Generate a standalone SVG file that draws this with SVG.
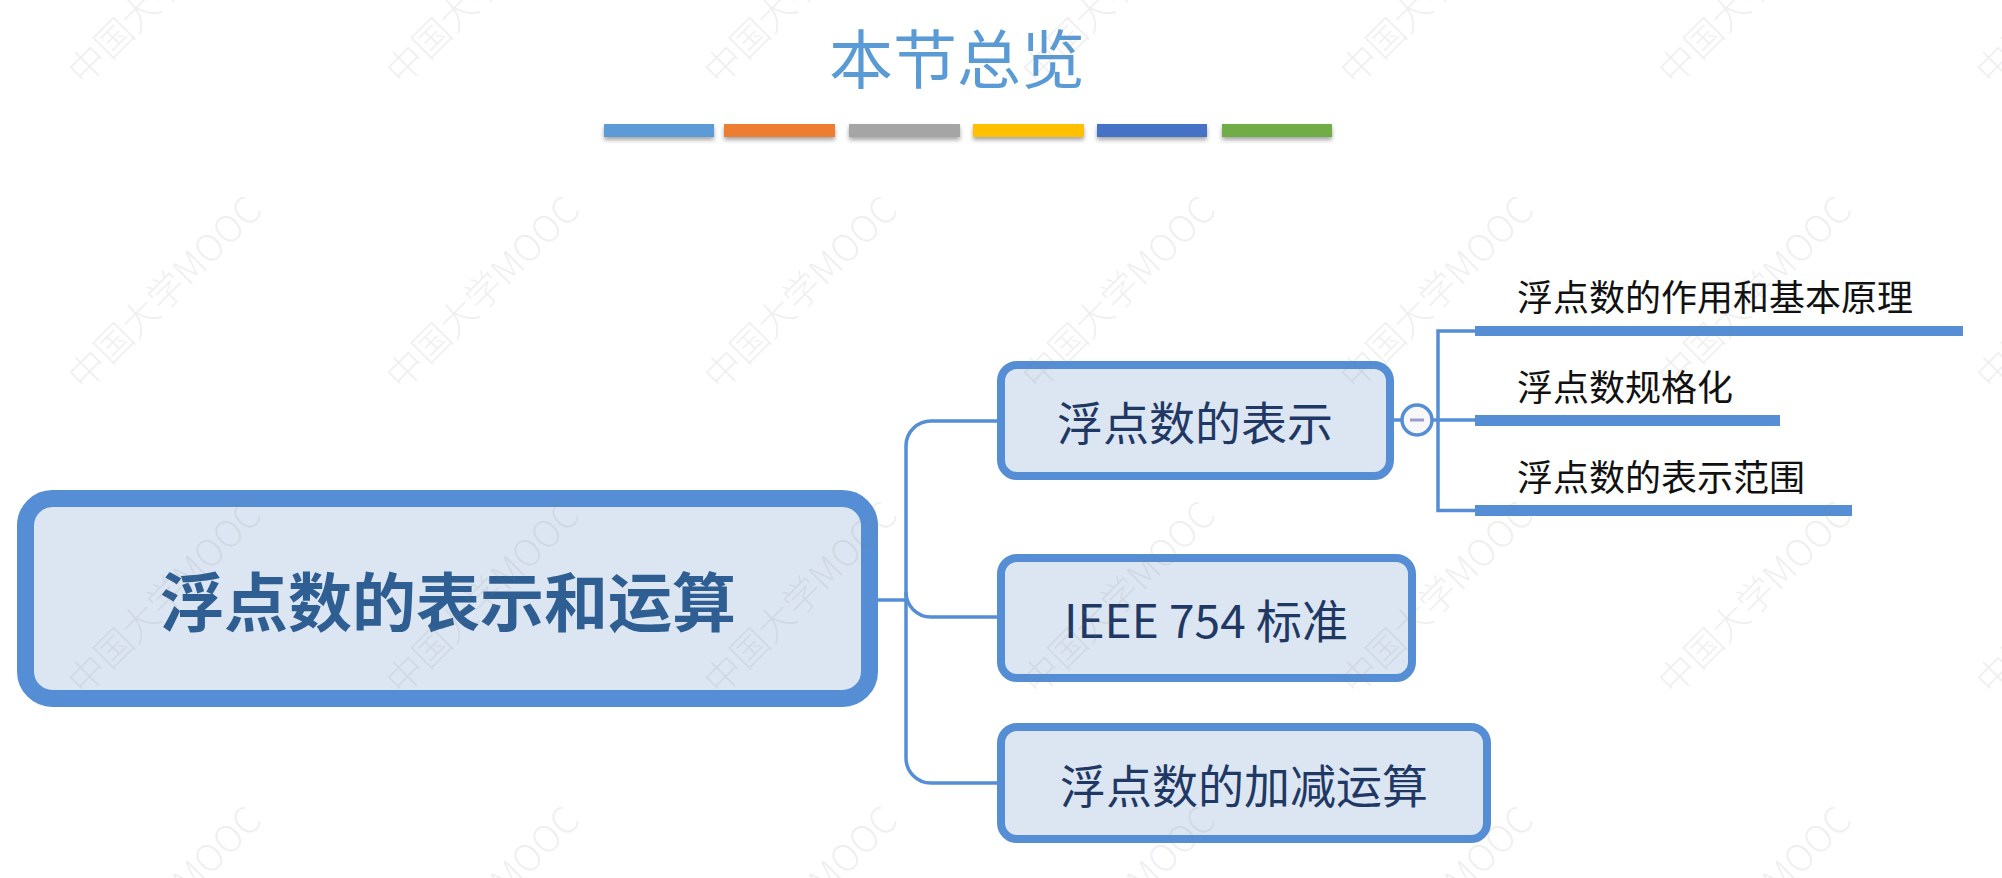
<svg xmlns="http://www.w3.org/2000/svg" width="2002" height="878" viewBox="0 0 2002 878">
<defs>
<filter id="sh" x="-10%" y="-50%" width="120%" height="250%">
<feDropShadow dx="0" dy="3" stdDeviation="2" flood-color="#000" flood-opacity="0.35"/>
</filter>
<style>
.cjk{font-family:"Noto Sans CJK SC","Noto Sans",sans-serif}
.title{font-size:64px;fill:#5B9BD5;text-anchor:middle;dominant-baseline:central}
.rootbox{fill:#DCE6F2;stroke:#558ED5;stroke-width:17}
.rootlbl{font-size:64px;font-weight:bold;fill:#2E5E92;text-anchor:middle;dominant-baseline:central}
.box{fill:#DCE6F2;stroke:#558ED5;stroke-width:8}
.lbl{font-size:46px;fill:#1F3864;text-anchor:middle;dominant-baseline:central}
.leaf{font-size:36px;fill:#111;dominant-baseline:central}
.bar{fill:#558ED5}
.conn{fill:none;stroke:#558ED5;stroke-width:3.5}
.wm{font-size:37px;font-weight:300;fill:#808080;fill-opacity:0.13}
</style>
</defs>
<rect width="2002" height="878" fill="#fff"/>

<g id="title">
<text class="cjk title" x="957" y="55">本节总览</text>
<g filter="url(#sh)">
<rect x="604" y="124" width="110" height="13" fill="#5B9BD5"/>
<rect x="724" y="124" width="111" height="13" fill="#ED7D31"/>
<rect x="849" y="124" width="111" height="13" fill="#A5A5A5"/>
<rect x="973" y="124" width="111" height="13" fill="#FFC000"/>
<rect x="1097" y="124" width="110" height="13" fill="#4472C4"/>
<rect x="1222" y="124" width="110" height="13" fill="#70AD47"/>
</g>
</g>

<g id="connectors">
<path class="conn" d="M877 600 H906"/>
<path class="conn" d="M906 600 V446 A25 25 0 0 1 931 421 H1000"/>
<path class="conn" d="M906 592 A25 25 0 0 0 931 617 H1000"/>
<path class="conn" d="M906 600 V758 A25 25 0 0 0 931 783 H1000"/>
<path class="conn" d="M1393 420 H1402"/>
<path class="conn" d="M1432 420 H1476"/>
<path class="conn" d="M1476 331 H1438 V510.5 H1476"/>
</g>

<g id="root">
<rect class="rootbox" x="25.5" y="498.5" width="844" height="200" rx="27"/>
<text class="cjk rootlbl" x="448" y="598">浮点数的表示和运算</text>
</g>

<g id="n1">
<rect class="box" x="1001" y="365" width="389" height="111" rx="16"/>
<text class="cjk lbl" x="1195" y="420">浮点数的表示</text>
</g>

<g id="n2">
<rect class="box" x="1001" y="558" width="411" height="120" rx="16"/>
<text class="cjk lbl" x="1206" y="618">IEEE 754 标准</text>
</g>

<g id="n3">
<rect class="box" x="1001" y="727" width="486" height="112" rx="16"/>
<text class="cjk lbl" x="1244" y="783">浮点数的加减运算</text>
</g>

<g id="collapse">
<circle cx="1417" cy="420" r="15" fill="#F7F7FA" stroke="#558ED5" stroke-width="3.5"/>
<line x1="1410" y1="420" x2="1424" y2="420" stroke="#9A9CC8" stroke-width="3"/>
</g>

<g id="leaf1">
<text class="cjk leaf" x="1517" y="295">浮点数的作用和基本原理</text>
<rect class="bar" x="1475" y="326" width="488" height="10"/>
</g>
<g id="leaf2">
<text class="cjk leaf" x="1517" y="385">浮点数规格化</text>
<rect class="bar" x="1475" y="415" width="305" height="11"/>
</g>
<g id="leaf3">
<text class="cjk leaf" x="1517" y="475">浮点数的表示范围</text>
<rect class="bar" x="1475" y="505" width="377" height="11"/>
</g>

<g id="watermark" class="cjk wm">
<text transform="translate(84,87) rotate(-45)">中国大学MOOC</text>
<text transform="translate(402,87) rotate(-45)">中国大学MOOC</text>
<text transform="translate(720,87) rotate(-45)">中国大学MOOC</text>
<text transform="translate(1038,87) rotate(-45)">中国大学MOOC</text>
<text transform="translate(1356,87) rotate(-45)">中国大学MOOC</text>
<text transform="translate(1674,87) rotate(-45)">中国大学MOOC</text>
<text transform="translate(1992,87) rotate(-45)">中国大学MOOC</text>
<text transform="translate(84,392) rotate(-45)">中国大学MOOC</text>
<text transform="translate(402,392) rotate(-45)">中国大学MOOC</text>
<text transform="translate(720,392) rotate(-45)">中国大学MOOC</text>
<text transform="translate(1038,392) rotate(-45)">中国大学MOOC</text>
<text transform="translate(1356,392) rotate(-45)">中国大学MOOC</text>
<text transform="translate(1674,392) rotate(-45)">中国大学MOOC</text>
<text transform="translate(1992,392) rotate(-45)">中国大学MOOC</text>
<text transform="translate(84,697) rotate(-45)">中国大学MOOC</text>
<text transform="translate(402,697) rotate(-45)">中国大学MOOC</text>
<text transform="translate(720,697) rotate(-45)">中国大学MOOC</text>
<text transform="translate(1038,697) rotate(-45)">中国大学MOOC</text>
<text transform="translate(1356,697) rotate(-45)">中国大学MOOC</text>
<text transform="translate(1674,697) rotate(-45)">中国大学MOOC</text>
<text transform="translate(1992,697) rotate(-45)">中国大学MOOC</text>
<text transform="translate(84,1002) rotate(-45)">中国大学MOOC</text>
<text transform="translate(402,1002) rotate(-45)">中国大学MOOC</text>
<text transform="translate(720,1002) rotate(-45)">中国大学MOOC</text>
<text transform="translate(1038,1002) rotate(-45)">中国大学MOOC</text>
<text transform="translate(1356,1002) rotate(-45)">中国大学MOOC</text>
<text transform="translate(1674,1002) rotate(-45)">中国大学MOOC</text>
<text transform="translate(1992,1002) rotate(-45)">中国大学MOOC</text>
</g>
</svg>
